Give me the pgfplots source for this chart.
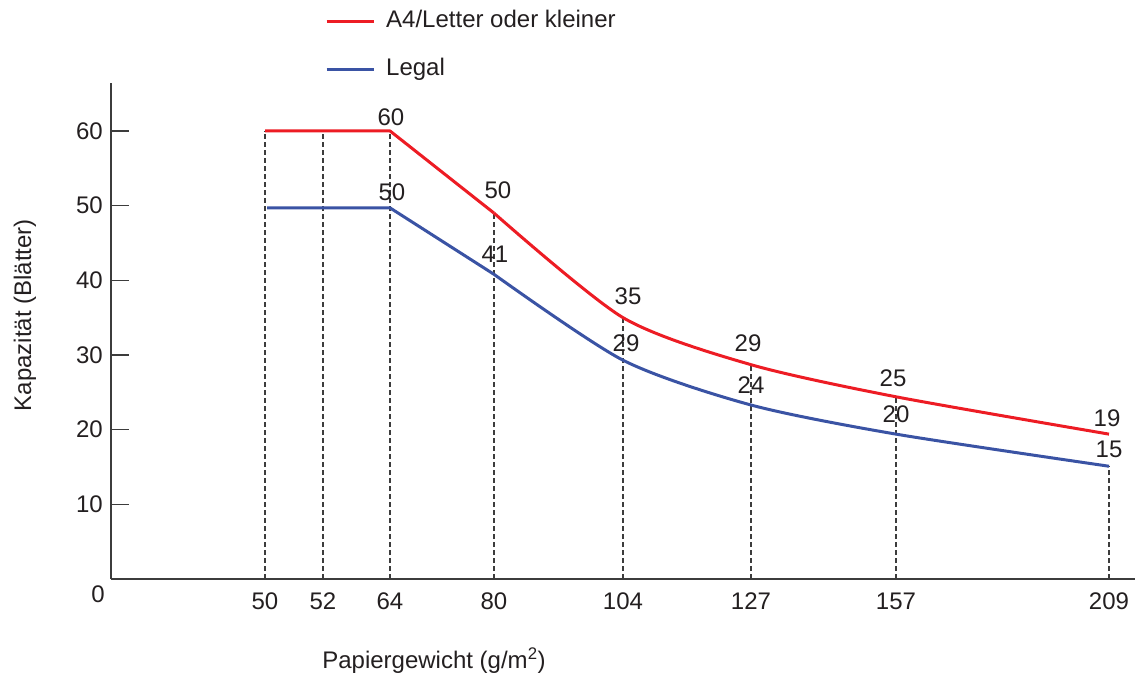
\documentclass[border=0pt]{standalone}
\usepackage{fontspec}
\setmainfont{Liberation Sans}
\usepackage{pgfplots}
\pgfplotsset{compat=1.18}
\definecolor{cred}{HTML}{ED1C24}
\definecolor{cblue}{HTML}{3A53A4}
\definecolor{caxis}{HTML}{3C3C3C}
\definecolor{ctext}{HTML}{231F20}
\begin{document}
\fontsize{24}{28}\selectfont
\begin{tikzpicture}[font=\fontsize{24}{28}\selectfont]
\begin{axis}[
  name=ax,
  scale only axis, width=1024pt, height=496pt,
  xmin=111, xmax=1135, ymin=0, ymax=66.42,
  axis x line*=bottom, axis y line*=left,
  axis line style={caxis, line width=2pt},
  xtick={265,323,390,494,623,751,896,1109},
  xticklabels={50,52,64,80,104,127,157,209},
  ytick={10,20,30,40,50,60},
  tick align=inside,
  major tick length=18pt,
  x tick style={draw=none},
  y tick style={caxis, line width=1.3pt},
  /pgf/number format/assume math mode=true,
  tick label style={text=ctext},
  xticklabel style={yshift=-6pt},
  every axis y label/.style={at={(axis description cs:-0.084,0.532)}, rotate=90, anchor=center, text=ctext},
  every axis x label/.style={at={(axis description cs:0.3154,-0.1653)}, anchor=center, text=ctext},
  xlabel={Papiergewicht (g/m\textsuperscript{2})},
  ylabel={Kapazität (Blätter)},
  clip=false,
  legend style={draw=none, fill=none, at={(axis cs:325,71.4)}, anchor=west,
    inner sep=0pt, row sep=26pt, column sep=11pt, text=ctext,
    nodes={inner sep=0pt, text height=17pt, text depth=5pt}},
  legend cell align=left,
  legend image code/.code={\draw[#1] (0pt,0pt) -- (47pt,0pt);},
]
\addplot[ycomb, caxis, line width=1.3pt, dash pattern=on 5pt off 3pt, forget plot]
  coordinates {(265,60)(323,60)(390,60)(494,49)(623,35)(751,28.7)(896,24.4)(1109,15.1)};
\addplot[cred, line width=3pt, line join=round] coordinates {(265,60)(390,60)(494,49.0)};
\addlegendentry{A4/Letter oder kleiner}
\addplot[cblue, line width=3pt, line join=round] coordinates {(267,49.7)(390,49.7)(494,40.8)};
\addlegendentry{Legal}
\addplot[cred, line width=3pt, smooth, tension=0.45, forget plot]
  coordinates {(494,49.0)(623,35.0)(751,28.7)(896,24.4)(1109,19.4)};
\addplot[cblue, line width=3pt, smooth, tension=0.45, forget plot]
  coordinates {(494,40.8)(623,29.3)(751,23.3)(896,19.4)(1109,15.1)};
\node[text=ctext] at (axis cs:391,61.87) {60};
\node[text=ctext] at (axis cs:392,51.83) {50};
\node[text=ctext] at (axis cs:498,52.10) {50};
\node[text=ctext] at (axis cs:495,43.52) {41};
\node[text=ctext] at (axis cs:628,37.90) {35};
\node[text=ctext] at (axis cs:626,31.61) {29};
\node[text=ctext] at (axis cs:748,31.61) {29};
\node[text=ctext] at (axis cs:751,25.98) {24};
\node[text=ctext] at (axis cs:893,26.92) {25};
\node[text=ctext] at (axis cs:896,22.10) {20};
\node[text=ctext] at (axis cs:1107,21.56) {19};
\node[text=ctext] at (axis cs:1109,17.41) {15};
\node[text=ctext] at (axis description cs:-0.0127,-0.0302) {0};
\end{axis}
\pgfresetboundingbox
\useasboundingbox ([shift={(-111pt,-94pt)}]ax.south west) rectangle ([shift={(0pt,579pt)}]ax.south east);
\end{tikzpicture}
\end{document}
